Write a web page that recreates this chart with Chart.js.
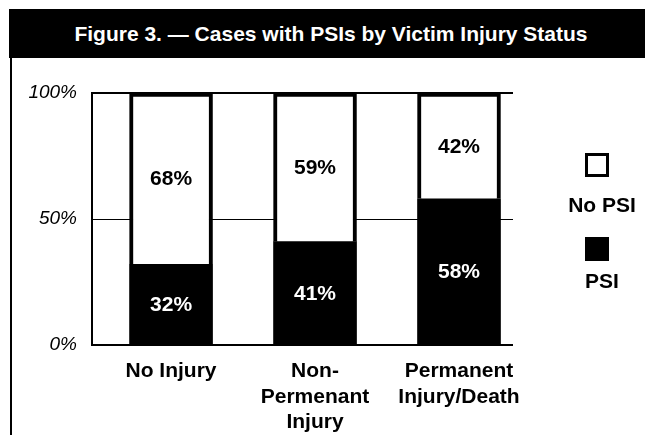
<!DOCTYPE html>
<html>
<head>
<meta charset="utf-8">
<script src="https://cdn.jsdelivr.net/npm/chart.js@4/dist/chart.umd.min.js"></script>
<style>
  html, body { margin: 0; padding: 0; background: #fff; }
  body { width: 645px; height: 435px; position: relative; overflow: hidden;
    font-family: 'Liberation Sans', Arial, sans-serif; }
  #header { position: absolute; left: 9px; top: 9px; width: 636px; height: 49px;
    background: #000; color: #fff; font-weight: bold; font-size: 21px;
    line-height: 49px; text-align: center; padding-left: 8px; box-sizing: border-box; }
  #frame { position: absolute; left: 10px; top: 58px; width: 2px; height: 377px; background: #000; }
  #chart { position: absolute; left: 0; top: 0; }
  #legend { position: absolute; left: 562px; top: 153px; width: 80px; }
  .item { text-align: center; }
  .box { width: 24px; height: 24px; box-sizing: border-box; margin: 0 0 0 23px; }
  .label { font-weight: bold; font-size: 21px; line-height: 24px; }
</style>
</head>
<body>
<div id="header">Figure 3. — Cases with PSIs by Victim Injury Status</div>
<div id="frame"></div>
<canvas id="chart" width="645" height="435"></canvas>
<div id="legend"></div>
<script>
//Categories and values (percent of cases)
const categories = ["No Injury", ["Non-", "Permenant", "Injury"], ["Permanent", "Injury/Death"]];
const psiData = [32, 41, 58];
const noPsiData = [68, 59, 42];
const yTicks = [0, 50, 100];

const fontFamily = "'Liberation Sans', Arial, sans-serif";

//Bars sit on a linear index axis so the spacing can match the original
function toPoints(values) {
    return values.map(function(v, i) { return { x: i, y: v }; });
}

//Draws the percentage inside each bar segment
const valueLabels = {
    id: 'valueLabels',
    afterDatasetsDraw(chart) {
        const ctx = chart.ctx;
        ctx.save();
        ctx.font = 'bold 21px ' + fontFamily;
        ctx.textAlign = 'center';
        ctx.textBaseline = 'middle';
        chart.data.datasets.forEach(function(ds, di) {
            const meta = chart.getDatasetMeta(di);
            meta.data.forEach(function(bar, i) {
                const p = bar.getProps(['x', 'y', 'base'], true);
                ctx.fillStyle = ds.labelColor;
                ctx.fillText(ds.data[i].y + '%', p.x, (p.y + p.base) / 2 + 1);
            });
        });
        ctx.restore();
    }
};

const chart = new Chart(
    document.getElementById('chart'),
    {
        type: 'bar',
        data: {
            datasets: [{
                label: 'PSI',
                data: toPoints(psiData),
                backgroundColor: '#000',
                borderColor: '#000',
                borderWidth: 0,
                labelColor: '#fff',
            }, {
                label: 'No PSI',
                data: toPoints(noPsiData),
                backgroundColor: '#fff',
                borderColor: '#000',
                borderWidth: 4,
                labelColor: '#000',
            }]
        },
        options: {
            responsive: false,
            animation: false,
            barThickness: 83,
            layout: {
                padding: { left: 0, right: 132, top: 93, bottom: 0 }
            },
            scales: {
                x: {
                    type: 'linear',
                    stacked: true,
                    offset: false,
                    min: -0.549,
                    max: 2.375,
                    grid: { display: false, drawTicks: false, offset: false },
                    border: { display: false },
                    afterBuildTicks: function(axis) {
                        axis.ticks = categories.map(function(c, i) { return { value: i }; });
                    },
                    afterFit: function(axis) { axis.height = 90; },
                    ticks: {
                        maxRotation: 0,
                        autoSkip: false,
                        padding: 14,
                        color: '#000',
                        font: { family: fontFamily, size: 21, weight: 'bold', lineHeight: 1.2 },
                        callback: function(v) { return categories[v]; }
                    }
                },
                y: {
                    stacked: true,
                    min: 0,
                    max: 100,
                    afterBuildTicks: function(axis) {
                        axis.ticks = yTicks.map(function(v) { return { value: v }; });
                    },
                    afterFit: function(axis) { axis.width = 92; },
                    grid: {
                        drawTicks: false,
                        color: '#000',
                        lineWidth: function(c) { return c.tick && c.tick.value === 50 ? 1 : 2; }
                    },
                    border: { display: true, color: '#000', width: 2 },
                    ticks: {
                        padding: 15,
                        color: '#000',
                        font: { family: fontFamily, size: 19, style: 'italic' },
                        callback: function(v) { return v + '%'; }
                    }
                }
            },
            plugins: {
                legend: { display: false },
                tooltip: { enabled: false },
            },
        },
        plugins: [valueLabels]
    }
);

//Legend with the swatch above its label, built from the datasets
const legendBox = document.getElementById('legend');
const legendGaps = [16, 8];
chart.data.datasets.slice().reverse().forEach(function(ds, n) {
    const item = document.createElement('div');
    item.className = 'item';
    if (n > 0) item.style.marginTop = '20px';
    const box = document.createElement('div');
    box.className = 'box';
    box.style.background = ds.backgroundColor;
    box.style.border = (ds.borderWidth ? 3 : 0) + 'px solid ' + ds.borderColor;
    const label = document.createElement('div');
    label.className = 'label';
    label.style.marginTop = legendGaps[n] + 'px';
    label.textContent = ds.label;
    item.appendChild(box);
    item.appendChild(label);
    legendBox.appendChild(item);
});
</script>
</body>
</html>
